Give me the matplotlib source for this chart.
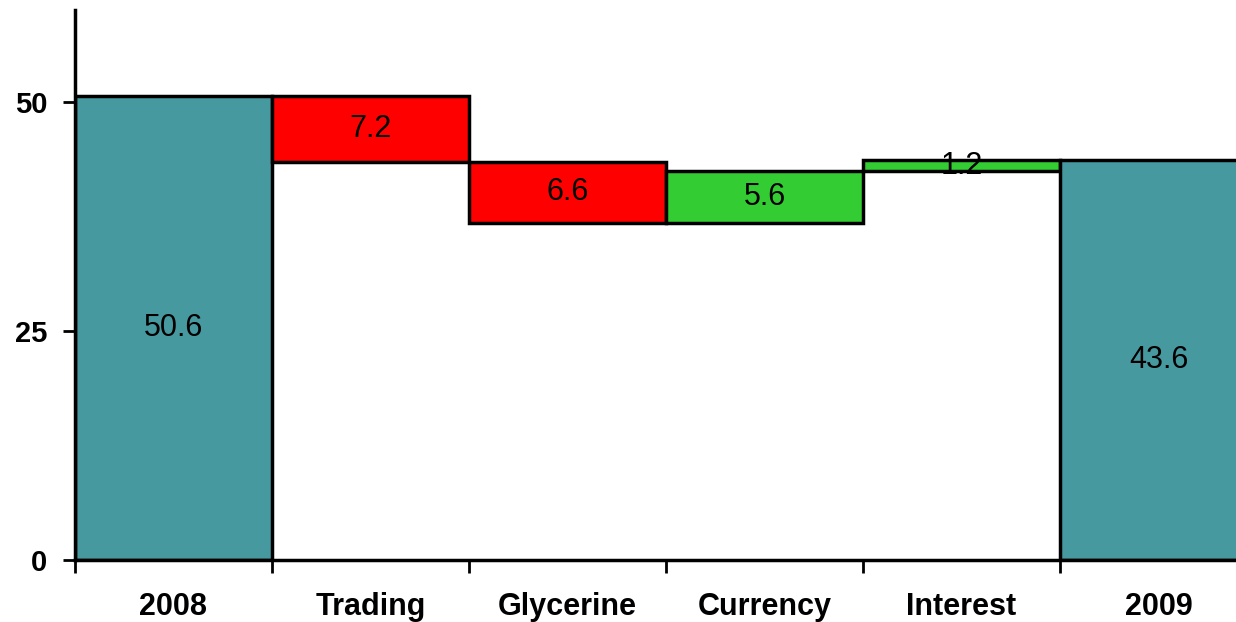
import matplotlib.pyplot as plt

categories = ['2008', 'Trading', 'Glycerine', 'Currency', 'Interest', '2009']
bottoms = [0, 43.4, 36.8, 36.8, 42.4, 0]
heights = [50.6, 7.2, 6.6, 5.6, 1.2, 43.6]
labels = ['50.6', '7.2', '6.6', '5.6', '1.2', '43.6']
colors = ['#4799A0', '#FF0000', '#FF0000', '#33CC33', '#33CC33', '#4799A0']

plt.rcParams['font.family'] = ['Liberation Sans', 'DejaVu Sans']

fig = plt.figure(figsize=(12.36, 6.22), dpi=100)
ax = fig.add_axes([75/1236, 62/622, 1182/1236, 550/622])

x = range(len(categories))
ax.bar(x, heights, bottom=bottoms, width=1.0, color=colors,
       edgecolor='black', linewidth=2.5, zorder=2)

# value labels in the middle of each bar
for i in x:
    ax.text(i, bottoms[i] + heights[i] / 2, labels[i], ha='center', va='center',
            fontsize=22, color='black', zorder=3)

ax.set_xlim(-0.5, 5.5)
ax.set_ylim(0, 60)
ax.set_yticks([0, 25, 50])
ax.set_yticklabels(['0', '25', '50'], fontsize=21, fontweight='bold')
ax.set_xticks(list(x))
ax.set_xticklabels(categories, fontsize=22, fontweight='bold')
ax.tick_params(axis='x', length=0, pad=23)
ax.set_xticks([i + 0.5 for i in range(-1, 5)], minor=True)
ax.tick_params(axis='x', which='minor', length=9, width=2, direction='out')
ax.tick_params(axis='y', length=9, width=2, pad=11)

for s in ['top', 'right']:
    ax.spines[s].set_visible(False)
for s in ['left', 'bottom']:
    ax.spines[s].set_linewidth(2.5)

plt.savefig('out.png', dpi=100)
